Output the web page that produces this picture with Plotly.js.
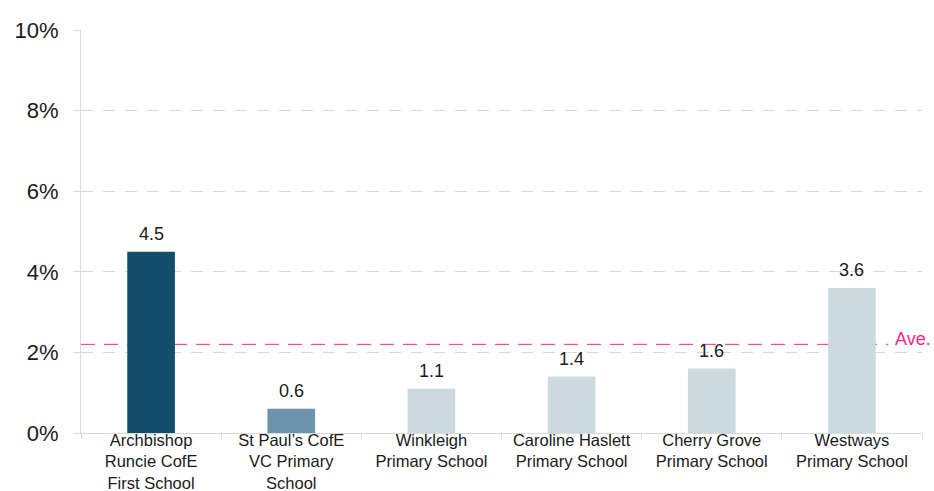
<!DOCTYPE html>
<html>
<head>
<meta charset="utf-8">
<script src="https://cdn.plot.ly/plotly-3.0.1.min.js"></script>
<style>html,body{margin:0;padding:0;background:#fff;}#chart{width:934px;height:491px;}</style>
</head>
<body>
<div id="chart"></div>
<script>
var categories = [
  "Archbishop<br>Runcie CofE<br>First School",
  "St Paul\u2019s CofE<br>VC Primary<br>School",
  "Winkleigh<br>Primary School",
  "Caroline Haslett<br>Primary School",
  "Cherry Grove<br>Primary School",
  "Westways<br>Primary School"
];
var values = [4.5, 0.6, 1.1, 1.4, 1.6, 3.6];
var valueLabels = ["4.5", "0.6", "1.1", "1.4", "1.6", "3.6"];
var barColors = ["#124d6a", "#6e93ac", "#cdd9e1", "#cdd9e1", "#cdd9e1", "#cdd9e1"];
var averageValue = 2.2;
var averageLabel = "Ave.";
var yTickVals = [0, 2, 4, 6, 8, 10];
var yTickText = ["0%", "2%", "4%", "6%", "8%", "10%"];

var font = "Liberation Sans, Arial, sans-serif";

var trace = {
  type: "bar",
  x: categories,
  y: values,
  marker: {color: barColors},
  hoverinfo: "none"
};

var annotations = values.map(function (v, i) {
  return {
    x: categories[i], y: v, xref: "x", yref: "y",
    text: valueLabels[i], showarrow: false,
    yanchor: "bottom", yshift: 6,
    font: {family: font, size: 18, color: "#1a1a1a"}
  };
});
annotations.push({
  x: 1.013, xref: "paper", xanchor: "right",
  y: averageValue, yref: "y", yanchor: "middle", yshift: 5,
  text: averageLabel, showarrow: false,
  font: {family: font, size: 18, color: "#f0288c"}
});

var layout = {
  width: 934, height: 491,
  margin: {l: 81, r: 12, t: 30, b: 58},
  paper_bgcolor: "#fff", plot_bgcolor: "#fff",
  showlegend: false,
  bargap: 0.66,
  font: {family: font, color: "#1a1a1a"},
  xaxis: {
    type: "category",
    showgrid: false,
    showline: true, linecolor: "#d9d9d9", linewidth: 1,
    ticks: "outside", tickson: "boundaries", ticklen: 5, tickcolor: "#d9d9d9",
    ticklabelstandoff: -8,
    tickfont: {family: font, size: 16.5, color: "#1a1a1a"},
    fixedrange: true
  },
  yaxis: {
    range: [0, 10],
    tickvals: yTickVals, ticktext: yTickText,
    showgrid: true, gridcolor: "#d9d9d9", griddash: "12px,10px", gridwidth: 1,
    zeroline: false,
    showline: true, linecolor: "#d9d9d9", linewidth: 1,
    ticks: "outside", ticklen: 7, tickcolor: "#d9d9d9",
    ticklabelstandoff: 10,
    tickfont: {family: font, size: 22, color: "#1a1a1a"},
    fixedrange: true
  },
  shapes: [{
    type: "line", xref: "paper", yref: "y",
    x0: 0, x1: 0.96, y0: averageValue, y1: averageValue,
    line: {color: "#f0288c", width: 1, dash: "14px,9px"},
    layer: "below"
  }],
  annotations: annotations
};

Plotly.newPlot("chart", [trace], layout, {displayModeBar: false, staticPlot: true});
</script>
</body>
</html>
